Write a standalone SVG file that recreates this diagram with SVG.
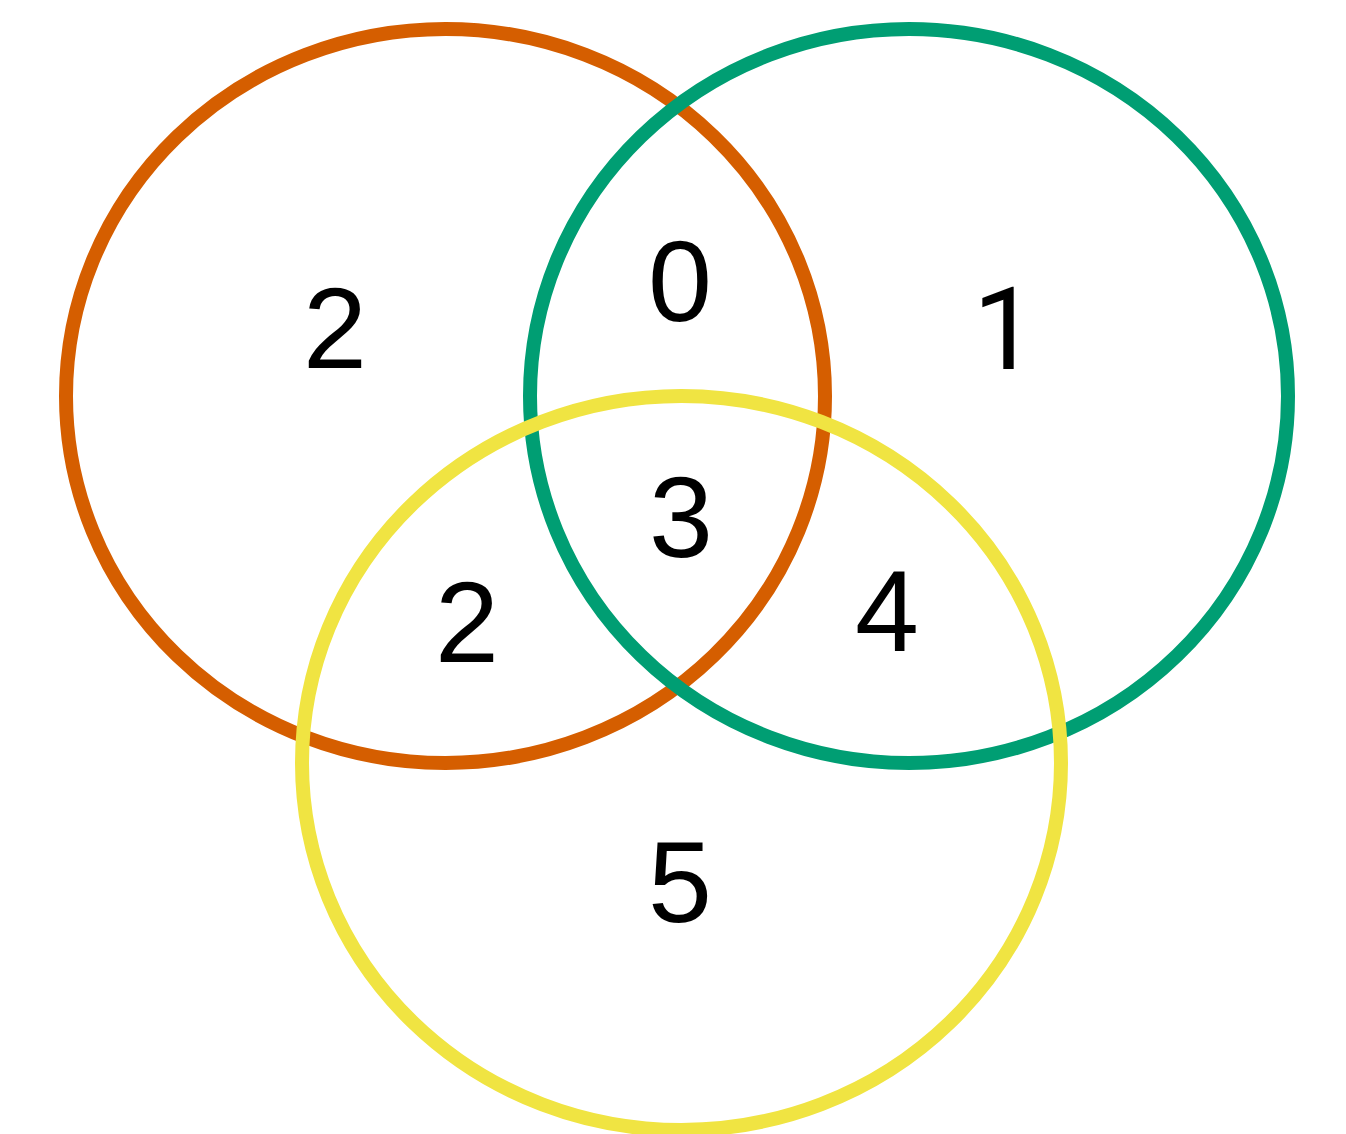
<svg xmlns="http://www.w3.org/2000/svg" width="1346" height="1134" viewBox="0 0 1346 1134">
<style>
.set{fill:none;stroke-width:14}
.lbl{font-family:"Liberation Sans",Arial,sans-serif;font-size:115px;fill:#000;text-anchor:middle}
.one{font-family:Roboto,"Liberation Sans",sans-serif}
</style>
<rect width="1346" height="1134" fill="#fff"/>
<g id="connectors"></g>
<g id="setA"><ellipse class="set" cx="445.5" cy="396" rx="379.5" ry="367" stroke="#D55E00"/></g>
<g id="setB"><ellipse class="set" cx="909" cy="396" rx="379" ry="367" stroke="#009E73"/></g>
<g id="setC"><ellipse class="set" cx="681.5" cy="763" rx="379.5" ry="367" stroke="#F0E442"/></g>
<g id="labels">
<text class="lbl" x="335" y="368">2</text>
<text class="lbl" x="680" y="321">0</text>
<text class="lbl one" x="1005" y="369">1</text>
<text class="lbl" x="681" y="557">3</text>
<text class="lbl" x="467" y="662">2</text>
<text class="lbl" x="887" y="651">4</text>
<text class="lbl" x="680" y="922">5</text>
</g>
</svg>
